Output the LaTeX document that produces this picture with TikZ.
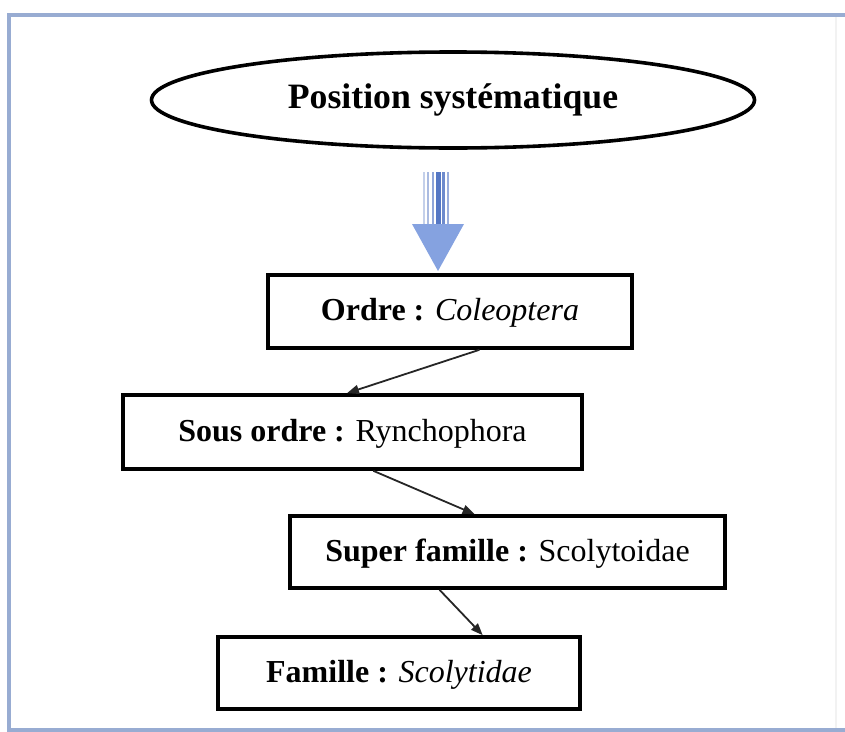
\documentclass[tikz,border=0pt]{standalone}
\usepackage{fontspec}
\setmainfont{Liberation Serif}
\usetikzlibrary{shapes.geometric,arrows.meta,calc}
\definecolor{frameblue}{HTML}{98ACD2}
\definecolor{arrowblue}{HTML}{85A2E0}
\definecolor{arrowdark}{HTML}{5577C4}
\begin{document}
\begin{tikzpicture}[x=1pt,y=-1pt,
  box/.style={draw=black,line width=3.6pt,rectangle,inner sep=0pt,
    font=\fontsize{32}{36}\selectfont,text height=22pt,text depth=4pt},
  conn/.style={draw=black!85,line width=1.8pt,-{Triangle[length=12pt,width=9pt]}},
  framestyle/.style={draw=frameblue,line width=3.5pt}]
\useasboundingbox (0,0) rectangle (845,731);
% frame
\draw[framestyle] (845,15) -- (9,15) -- (9,730) -- (845,730);
\draw[draw=black!5,line width=2pt] (836,17) -- (836,728);
% title ellipse
\node[ellipse,draw=black,line width=3.6pt,minimum width=603pt,minimum height=96pt,inner sep=0pt,
  font=\fontsize{35.7}{40}\bfseries\selectfont] (t) at (453,100) {Position systématique};
% boxes
\node[box,minimum width=364pt,minimum height=73pt] (o) at (450,311.5) {\textbf{Ordre :} \textit{Coleoptera}};
\node[box,minimum width=459pt,minimum height=74pt] (s) at (352.5,432) {\textbf{Sous ordre :} Rynchophora};
\node[box,minimum width=435pt,minimum height=72pt] (sf) at (507.5,552) {\textbf{Super famille :} Scolytoidae};
\node[box,minimum width=362pt,minimum height=72pt] (f) at (399,673) {\textbf{Famille :} \textit{Scolytidae}};
% blue arrow
\coordinate (bt) at (438,172);
\foreach \dx/\op/\w in {-14/0.35/1.5, -10/0.5/2, -5/0.65/2.5, 0/1/5, 5/0.85/3, 10/0.6/2}
  \draw[arrowdark,opacity=\op,line width=\w pt] ($(bt)+(\dx,0)$) -- ($(bt)+(\dx,56)$);
\fill[arrowblue] ($(bt)+(-26,52)$) -- ($(bt)+(26,52)$) -- ($(bt)+(0,99)$) -- cycle;
% connectors
\draw[conn] ($(o.south west)!0.58!(o.south east)$) -- ($(s.north west)!0.488!(s.north east)$);
\draw[conn] ($(s.south west)!0.545!(s.south east)$) -- ($(sf.north west)!0.425!(sf.north east)$);
\draw[conn] ($(sf.south west)!0.345!(sf.south east)$) -- ($(f.north west)!0.729!(f.north east)$);
\end{tikzpicture}
\end{document}
